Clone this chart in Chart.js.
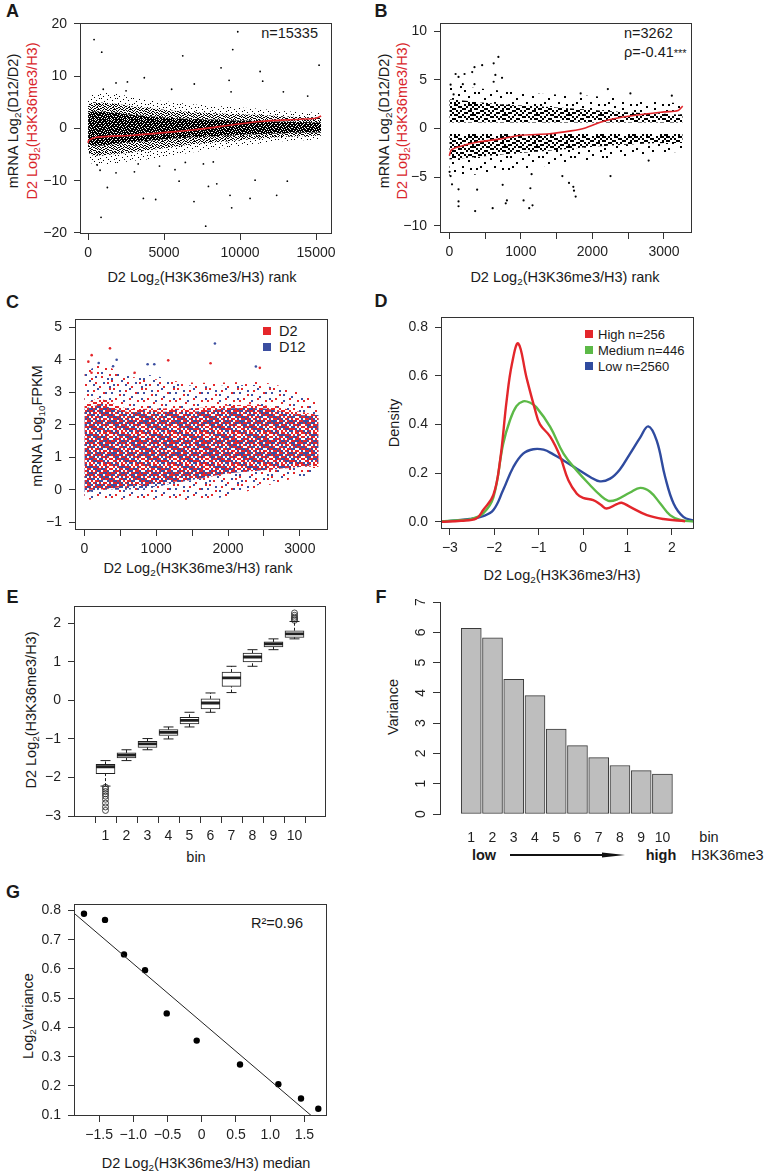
<!DOCTYPE html>
<html>
<head>
<meta charset="utf-8">
<title>H3K36me3 and mRNA variance</title>
<script src="https://cdn.jsdelivr.net/npm/chart.js@4.4.1/dist/chart.umd.min.js"></script>
<style>
  body { margin: 0; background: #fff; }
  #fig { position: relative; width: 766px; height: 1174px; overflow: hidden;
         font-family: "Liberation Sans", Arial, Helvetica, sans-serif; color: #1a1a1a; }
  #fig canvas { position: absolute; }
  .tx { position: absolute; white-space: nowrap; font-size: 14.5px; line-height: 1; }
  .c { transform: translate(-50%, -50%); }
  .l { transform: translate(0, -50%); }
  .rt { transform: translate(-100%, -50%); }
  .v { transform: translate(-50%, -50%) rotate(-90deg); }
  .pl { font-size: 18px; font-weight: bold; }
  .red { color: #d9262c; }
  .sm { font-size: 13px; }
  .b { font-weight: bold; }
  .sw { position: absolute; width: 8px; height: 8px; }
  sub { font-size: 68%; vertical-align: -0.3em; line-height: 0; }
  svg { position: absolute; }
</style>
</head>
<body>
<div id="fig">
  <!-- panel letters -->
  <div class="tx c pl" style="left:12.5px;top:11px">A</div>
  <div class="tx c pl" style="left:381px;top:11px">B</div>
  <div class="tx c pl" style="left:12.5px;top:302px">C</div>
  <div class="tx c pl" style="left:381px;top:301px">D</div>
  <div class="tx c pl" style="left:12.5px;top:597px">E</div>
  <div class="tx c pl" style="left:381px;top:597px">F</div>
  <div class="tx c pl" style="left:13px;top:892px">G</div>

  <!-- A -->
  <div class="tx v" style="left:13px;top:121px">mRNA Log<sub>2</sub>(D12/D2)</div>
  <div class="tx v red" style="left:32px;top:121px">D2 Log<sub>2</sub>(H3K36me3/H3)</div>
  <div class="tx c" style="left:202px;top:277px">D2 Log<sub>2</sub>(H3K36me3/H3) rank</div>
  <div class="tx rt" style="left:318px;top:32.5px">n=15335</div>

  <!-- B -->
  <div class="tx v" style="left:384px;top:121px">mRNA Log<sub>2</sub>(D12/D2)</div>
  <div class="tx v red" style="left:402px;top:121px">D2 Log<sub>2</sub>(H3K36me3/H3)</div>
  <div class="tx c" style="left:565px;top:277px">D2 Log<sub>2</sub>(H3K36me3/H3) rank</div>
  <div class="tx l" style="left:624px;top:33px">n=3262</div>
  <div class="tx l" style="left:624px;top:52px">ρ=-0.41<span style="font-size:11px">***</span></div>

  <!-- C -->
  <div class="tx v" style="left:37px;top:426px">mRNA Log<sub>10</sub>FPKM</div>
  <div class="tx c" style="left:198px;top:568px">D2 Log<sub>2</sub>(H3K36me3/H3) rank</div>
  <div class="sw" style="left:263px;top:327px;background:#e5262a"></div>
  <div class="tx l" style="left:279px;top:331px">D2</div>
  <div class="sw" style="left:263px;top:343px;background:#3b4ea0"></div>
  <div class="tx l" style="left:279px;top:347px">D12</div>

  <!-- D -->
  <div class="tx v" style="left:394px;top:423px">Density</div>
  <div class="tx c" style="left:562px;top:575px">D2 Log<sub>2</sub>(H3K36me3/H3)</div>
  <div class="sw" style="left:585px;top:330px;background:#e3262b"></div>
  <div class="tx l sm" style="left:598px;top:334px">High n=256</div>
  <div class="sw" style="left:585px;top:346px;background:#5cb947"></div>
  <div class="tx l sm" style="left:598px;top:350px">Medium n=446</div>
  <div class="sw" style="left:585px;top:362px;background:#2f4b9f"></div>
  <div class="tx l sm" style="left:598px;top:366px">Low n=2560</div>

  <!-- E -->
  <div class="tx v" style="left:31px;top:710px">D2 Log<sub>2</sub>(H3K36me3/H3)</div>
  <div class="tx c" style="left:196px;top:857px">bin</div>

  <!-- F -->
  <div class="tx v" style="left:393px;top:707px">Variance</div>
  <div class="tx c" style="left:709px;top:837px">bin</div>
  <div class="tx c b" style="left:484px;top:855px">low</div>
  <div class="tx c b" style="left:661px;top:855px">high</div>
  <div class="tx l" style="left:691px;top:855px">H3K36me3</div>
  <svg style="left:505px;top:849px" width="125" height="12">
    <line x1="5" y1="6" x2="100" y2="6" stroke="#111" stroke-width="2"/>
    <polygon points="97,3.5 120,6 97,8.5" fill="#111"/>
  </svg>

  <!-- G -->
  <div class="tx v" style="left:28px;top:1016px">Log<sub>2</sub>Variance</div>
  <div class="tx c" style="left:206px;top:1163px">D2 Log<sub>2</sub>(H3K36me3/H3) median</div>
  <div class="tx l" style="left:251px;top:923px">R²=0.96</div>
</div>

<script>
const INK = '#1f1f1f';
const RED = '#e0262b';

// ---- A: all genes, mRNA change against H3K36me3 rank (cloud edges)
const aRank = [0, 300, 1500, 3000, 5000, 7000, 9000, 11000, 13000, 15335];
const aHaloTop = [5.8, 6.5, 6.8, 6.0, 5.2, 4.6, 4.2, 3.8, 3.3, 3.0];
const aMidTop = [4.5, 5.0, 4.8, 4.2, 3.6, 3.1, 2.8, 2.6, 2.3, 2.1];
const aCoreTop = [3.0, 3.3, 3.1, 2.6, 2.1, 1.8, 1.6, 1.4, 1.3, 1.2];
const aCoreBot = [-3.0, -3.3, -3.1, -2.6, -2.1, -1.7, -1.4, -1.1, -0.9, -0.8];
const aMidBot = [-4.5, -5.2, -5.0, -4.5, -3.8, -3.0, -2.5, -2.0, -1.6, -1.4];
const aHaloBot = [-5.5, -6.8, -6.8, -6.2, -5.5, -4.5, -3.8, -3.0, -2.4, -2.1];
const aOutX = [395, 900, 6230, 9850, 9520, 8750, 11320, 11490, 9280, 9410, 15200, 6990, 5500, 3700, 2590, 1840,
  12850, 14450, 1000, 2500, 855, 1270, 3640, 4450, 5990, 6970, 7740, 7920, 8470, 9340, 9450, 10660, 10990,
  12410, 13110, 1840, 3050, 790, 5720, 7590, 8240, 600, 4700, 3300, 6400];
const aOutY = [17.0, 14.6, 13.9, 18.5, 15.1, 11.6, 10.9, 9.05, 9.2, 7.0, 12.1, 8.5, 7.5, 9.7, 8.9, 8.7,
  7.0, 6.2, 7.5, 7.2, -17.0, -11.3, -13.4, -13.6, -10.1, -14.0, -18.7, -11.1, -10.6, -12.8, -15.2, -13.4, -9.9,
  -12.8, -10.1, -8.5, -8.3, -8.0, -7.9, -6.8, -6.4, -7.0, -7.2, -6.8, -6.5];
const aTrendX = [0, 50, 550, 2965, 5160, 6918, 8500, 9550, 11310, 13950, 15000, 15335];
const aTrendY = [-2.8, -2.3, -1.7, -1.3, -0.76, -0.3, 0.3, 0.7, 1.33, 1.77, 1.96, 2.4];
const aXTicks = [0, 5000, 10000, 15000];
const aXLabels = ['0', '5000', '10000', '15000'];
const aYTicks = [-20, -10, 0, 10, 20];
const aYLabels = ['\u221220', '\u221210', '0', '10', '20'];

// ---- B: changed genes only
const bRank = [0, 300, 700, 1200, 1800, 2400, 3000, 3262];
const bUpHalo = [4.6, 4.2, 3.9, 3.6, 3.4, 3.1, 2.7, 2.6];
const bUpCore = [3.0, 2.8, 2.5, 2.3, 2.0, 1.7, 1.5, 1.4];
const bUpEdge = [0.62, 0.62, 0.62, 0.62, 0.62, 0.62, 0.62, 0.62];
const bLoEdge = [-0.58, -0.58, -0.58, -0.58, -0.58, -0.58, -0.58, -0.58];
const bLoCore = [-3.2, -3.0, -2.7, -2.4, -2.0, -1.7, -1.5, -1.5];
const bLoHalo = [-5.0, -4.8, -4.4, -4.0, -3.4, -2.9, -2.5, -2.4];
const bOutX = [686, 620, 459, 352, 320, 213, 88, 129, 644, 737, 620, 18, 189, 352, 60, 1836, 2216, 2531, 3110,
  4, 18, 38, 129, 129, 129, 361, 606, 789, 805, 1038, 1117, 1163, 1133, 1150, 1673, 1733, 1743, 1766, 1580,
  746, 389, 2253, 2786];
const bOutY = [7.35, 6.7, 6.5, 6.3, 5.8, 5.6, 5.6, 5.3, 5.5, 5.2, 4.8, 4.5, 4.55, 4.55, 3.5, 3.6, 4.05, 3.6, 3.37,
  -4.46, -4.9, -5.75, -6.26, -7.5, -8.0, -8.5, -8.2, -7.7, -7.4, -7.4, -8.2, -7.9, -6.15, -4.7, -5.6, -6.0, -6.4,
  -7.0, -4.9, -5.8, -6.3, -4.9, -3.3];
const bTrendX = [0, 30, 150, 400, 700, 1000, 1400, 1700, 1900, 2100, 2300, 2600, 3000, 3200, 3262];
const bTrendY = [-2.8, -2.2, -1.85, -1.4, -1.1, -0.7, -0.55, -0.25, 0.05, 0.6, 1.0, 1.35, 1.7, 1.85, 2.3];
const rankTicks = [0, 500, 1000, 1500, 2000, 2500, 3000];
const rankLabels = ['0', '', '1000', '', '2000', '', '3000'];
const bYTicks = [-10, -5, 0, 5, 10];
const bYLabels = ['\u221210', '\u22125', '0', '5', '10'];

// ---- C: expression level at D2 and D12
const cRank = [0, 200, 600, 1000, 1500, 2000, 2500, 3000, 3262];
const cD2HaloTop = [3.7, 3.9, 3.5, 3.4, 3.3, 3.3, 3.3, 3.0, 2.7];
const cD2CoreTop = [2.6, 2.8, 2.5, 2.5, 2.5, 2.6, 2.6, 2.4, 2.3];
const cD2CoreBot = [0.0, 0.0, 0.1, 0.2, 0.3, 0.5, 0.6, 0.7, 0.7];
const cD2HaloBot = [-0.3, -0.3, -0.3, -0.3, -0.3, -0.2, 0.1, 0.4, 0.5];
const cD12HaloTop = [3.6, 3.8, 3.6, 3.5, 3.2, 3.2, 3.2, 2.9, 2.6];
const cD12CoreTop = [2.5, 2.6, 2.4, 2.4, 2.4, 2.5, 2.5, 2.3, 2.3];
const cD12CoreBot = [-0.1, 0.0, 0.0, 0.1, 0.3, 0.5, 0.6, 0.7, 0.8];
const cD12HaloBot = [-0.3, -0.3, -0.3, -0.3, -0.3, -0.2, 0.2, 0.4, 0.5];
const cD2OutX = [357, 102, 56, 1168, 1757, 2443, 100, 700];
const cD2OutY = [4.35, 4.14, 3.94, 3.98, 3.89, 3.75, 3.6, 3.6];
const cD12OutX = [1818, 450, 881, 974, 2388, 200, 400];
const cD12OutY = [4.5, 4.0, 3.86, 3.86, 3.79, 3.9, 3.8];
const cYTicks = [-1, 0, 1, 2, 3, 4, 5];
const cYLabels = ['\u22121', '0', '1', '2', '3', '4', '5'];

// ---- D: density of H3K36me3 for high / medium / low groups
const dHighX = [-3.2, -2.75, -2.4, -2.25, -2.02, -1.87, -1.72, -1.6, -1.46, -1.27, -1.08, -0.97, -0.74, -0.52,
  -0.33, -0.14, 0.0, 0.23, 0.4, 0.53, 0.76, 0.87, 1.06, 1.44, 1.81, 2.3];
const dHighY = [0.0, 0.004, 0.014, 0.048, 0.11, 0.25, 0.5, 0.65, 0.733, 0.59, 0.46, 0.40, 0.35, 0.27,
  0.17, 0.115, 0.098, 0.089, 0.07, 0.054, 0.072, 0.078, 0.061, 0.027, 0.011, 0.002];
const dMedX = [-3.2, -2.75, -2.5, -2.25, -2.02, -1.8, -1.65, -1.5, -1.35, -1.2, -1.05, -0.74, -0.44, -0.14,
  0.16, 0.38, 0.57, 0.76, 1.06, 1.29, 1.51, 1.74, 1.96, 2.19, 2.5];
const dMedY = [0.002, 0.006, 0.012, 0.034, 0.10, 0.32, 0.415, 0.475, 0.495, 0.49, 0.47, 0.39, 0.28, 0.21,
  0.15, 0.11, 0.086, 0.091, 0.12, 0.139, 0.123, 0.075, 0.027, 0.007, 0.001];
const dLowX = [-3.2, -3.0, -2.55, -2.25, -2.02, -1.8, -1.57, -1.35, -1.12, -0.89, -0.67, -0.44, -0.14, 0.16,
  0.38, 0.61, 0.83, 1.06, 1.29, 1.47, 1.66, 1.85, 2.04, 2.26, 2.5];
const dLowY = [0.001, 0.003, 0.011, 0.023, 0.048, 0.13, 0.225, 0.28, 0.298, 0.296, 0.277, 0.252, 0.218, 0.184,
  0.166, 0.177, 0.215, 0.28, 0.347, 0.392, 0.333, 0.184, 0.075, 0.02, 0.004];
const dXTicks = [-3, -2, -1, 0, 1, 2];
const dXLabels = ['\u22123', '\u22122', '\u22121', '0', '1', '2'];
const dYTicks = [0, 0.2, 0.4, 0.6, 0.8];
const dYLabels = ['0.0', '0.2', '0.4', '0.6', '0.8'];

// ---- E: H3K36me3 per bin (box plot)
const eBins = [1, 2, 3, 4, 5, 6, 7, 8, 9, 10];
const eMed = [-1.72, -1.42, -1.13, -0.83, -0.52, -0.07, 0.58, 1.12, 1.46, 1.72];
const eQ1 = [-1.90, -1.49, -1.22, -0.91, -0.61, -0.22, 0.36, 0.99, 1.38, 1.63];
const eQ3 = [-1.66, -1.36, -1.06, -0.76, -0.44, 0.04, 0.73, 1.22, 1.51, 1.80];
const eLo = [-2.22, -1.56, -1.28, -1.00, -0.69, -0.31, 0.20, 0.88, 1.31, 1.59];
const eHi = [-1.56, -1.28, -0.99, -0.69, -0.31, 0.19, 0.88, 1.31, 1.59, 2.04];
const eOutX = [1, 1, 1, 1, 1, 1, 1, 1, 1, 10, 10, 10, 10, 10];
const eOutY = [-2.25, -2.3, -2.36, -2.42, -2.48, -2.56, -2.66, -2.76, -2.85, 2.07, 2.11, 2.15, 2.2, 2.26];
const binLabels = ['1', '2', '3', '4', '5', '6', '7', '8', '9', '10'];
const eYTicks = [-3, -2, -1, 0, 1, 2];
const eYLabels = ['\u22123', '\u22122', '\u22121', '0', '1', '2'];

// ---- F: variance of mRNA change per bin
const fVar = [6.13, 5.82, 4.45, 3.91, 2.80, 2.26, 1.86, 1.60, 1.43, 1.32];
const fYTicks = [0, 1, 2, 3, 4, 5, 6, 7];
const fYLabels = ['0', '1', '2', '3', '4', '5', '6', '7'];

// ---- G: log variance against bin median
const gMedian = [-1.721, -1.414, -1.136, -0.829, -0.512, -0.074, 0.559, 1.119, 1.45, 1.703];
const gLogVar = [0.789, 0.768, 0.650, 0.596, 0.448, 0.355, 0.273, 0.206, 0.157, 0.122];
const gFitX = [-1.867, 1.607];
const gFitY = [0.791, 0.097];
const gXTicks = [-1.5, -1, -0.5, 0, 0.5, 1, 1.5];
const gXLabels = ['\u22121.5', '\u22121.0', '\u22120.5', '0', '0.5', '1.0', '1.5'];
const gYTicks = [0.1, 0.2, 0.3, 0.4, 0.5, 0.6, 0.7, 0.8];
const gYLabels = ['0.1', '0.2', '0.3', '0.4', '0.5', '0.6', '0.7', '0.8'];

Chart.defaults.font.family = '"Liberation Sans", Arial, Helvetica, sans-serif';
Chart.defaults.font.size = 14;
Chart.defaults.color = INK;

const pts = (xs, ys) => xs.map((x, i) => ({x, y: ys[i]}));

// dotted fill used for the dense point clouds
function stipple(color, rows, cell) {
  const t = document.createElement('canvas');
  t.width = rows[0].length * cell;
  t.height = rows.length * cell;
  const g = t.getContext('2d');
  g.fillStyle = color;
  rows.forEach((r, y) => [...r].forEach((ch, x) => { if (ch === '1') g.fillRect(x * cell, y * cell, cell, cell); }));
  return g.createPattern(t, 'repeat');
}
const flip = rows => rows.map(r => [...r].reverse().join('')).reverse();

const framePlugin = {
  id: 'frame',
  afterDraw(chart, args, opts) {
    if (!opts.show) return;
    const {ctx, chartArea: a} = chart;
    ctx.save();
    ctx.strokeStyle = '#333';
    ctx.lineWidth = 1;
    ctx.strokeRect(Math.round(a.left) + 0.5, Math.round(a.top) + 0.5,
      Math.round(a.right - a.left) - 1, Math.round(a.bottom - a.top) - 1);
    ctx.restore();
  }
};

// vertical y tick labels (R las=0), placed with the y scale
const uprightLabels = {
  id: 'upright',
  afterDraw(chart, args, opts) {
    if (!opts.labels) return;
    const s = chart.scales.y, ctx = chart.ctx;
    ctx.save();
    ctx.fillStyle = INK;
    ctx.font = '14px "Liberation Sans", Arial, sans-serif';
    ctx.textAlign = 'center';
    ctx.textBaseline = 'middle';
    s.ticks.forEach((t, i) => {
      ctx.save();
      ctx.translate(s.right - opts.offset, s.getPixelForValue(t.value));
      ctx.rotate(-Math.PI / 2);
      ctx.fillText(opts.labels[i], 0, 0);
      ctx.restore();
    });
    ctx.restore();
  }
};

function axis(pos, min, max, ticks, labels, extra) {
  const horiz = pos === 'bottom';
  const ax = {
    type: 'linear', position: pos, min, max,
    afterBuildTicks: s => { s.ticks = ticks.map(v => ({value: v})); },
    grid: {drawOnChartArea: false, drawTicks: true, tickLength: 6, color: '#333', lineWidth: 1},
    border: {display: false},
    ticks: {color: INK, padding: horiz ? 5 : 7, autoSkip: false, maxRotation: 0, minRotation: 0,
            callback: (v, i) => labels[i]}
  };
  if (extra) {
    for (const k in extra) ax[k] = (typeof extra[k] === 'object' && ax[k]) ? Object.assign({}, ax[k], extra[k]) : extra[k];
  }
  return ax;
}

function band(xs, ys, fill) {
  return {type: 'line', data: pts(xs, ys), showLine: true, borderColor: 'transparent', borderWidth: 1,
          pointRadius: 0, tension: 0.3, fill: fill ? '+1' : false,
          backgroundColor: fill || 'transparent', order: 5};
}
function dotSet(xs, ys, color, r) {
  return {type: 'scatter', data: pts(xs, ys), pointRadius: r, pointBackgroundColor: color,
          pointBorderWidth: 0, order: 1};
}
function curve(xs, ys, color, w, tension) {
  return {type: 'line', data: pts(xs, ys), borderColor: color, borderWidth: w, pointRadius: 0,
          tension: tension, fill: false, order: 0};
}

function panel(box, datasets, scales, opts = {}) {
  const pad = Object.assign({l: 60, t: 14, r: 14, b: 44}, opts.pad || {});
  const cv = document.createElement('canvas');
  cv.width = box.r - box.l + pad.l + pad.r;
  cv.height = box.b - box.t + pad.t + pad.b;
  cv.style.left = (box.l - pad.l) + 'px';
  cv.style.top = (box.t - pad.t) + 'px';
  document.getElementById('fig').appendChild(cv);
  scales.x.afterFit = s => { s.height = pad.b; };
  scales.y.afterFit = s => { s.width = pad.l; };
  return new Chart(cv, {
    type: 'scatter',
    data: {datasets},
    options: {
      responsive: false, animation: false, events: [],
      layout: {autoPadding: false, padding: {left: 0, top: pad.t, right: pad.r, bottom: 0}},
      plugins: {legend: {display: false}, tooltip: {enabled: false},
                frame: {show: opts.frame !== false}, upright: opts.upright || {}},
      scales
    },
    plugins: [framePlugin, uprightLabels]
  });
}

// stipple tiles (fixed, irregular dot layouts)
const sparseDots = [
  '1000000000000100', '0000010000000000', '0000000001000000', '0010000000000001',
  '0000000000010000', '0000001000000000', '1000000000000000', '0000000010000010',
  '0001000000000000', '0000000000100000', '0100000000000001', '0000000100000000',
  '0000000000001000', '0000100000000000', '0000000000000000', '0010000001000000'];
const midDots = [
  '1010011000101101', '0101000110010010', '1000110001100101', '0011001010001100',
  '1100100100110010', '0001011001000111', '1010000110101000', '0100110000010110',
  '1001001011000001', '0110100100101100', '0000110010010011', '1011000101100100',
  '0100011000011010', '1001100110000101', '0110001001110000', '0001010100001011'];
const coreDots = [
  '1101110111101101', '1011111101111011', '1111011011011111', '0110111111110110',
  '1111101101101111', '1011011111011101', '1110110110111111', '0111111011110110',
  '1101101111011011', '1111110101111101', '1011011111101111', '1110111010110111',
  '0111101111111010', '1101111011011111', '1011010111101101', '1111111101010111'];

// A
panel({l: 80, t: 22, r: 332, b: 234}, [
  curve(aTrendX, aTrendY, RED, 1.6, 0.3),
  dotSet(aOutX, aOutY, '#000', 0.9),
  band(aRank, aHaloTop, stipple('#000', sparseDots, 1)),
  band(aRank, aMidTop, stipple('#000', midDots, 1)),
  band(aRank, aCoreTop, stipple('#000', coreDots, 1)),
  band(aRank, aCoreBot, stipple('#000', midDots, 1)),
  band(aRank, aMidBot, stipple('#000', sparseDots, 1)),
  band(aRank, aHaloBot, null)
], {x: axis('bottom', -530, 16050, aXTicks, aXLabels), y: axis('left', -20.2, 20.1, aYTicks, aYLabels)});

// B
panel({l: 440, t: 22, r: 692, b: 233}, [
  curve(bTrendX, bTrendY, RED, 1.6, 0.3),
  dotSet(bOutX, bOutY, '#000', 1.1),
  band(bRank, bUpHalo, stipple('#000', sparseDots, 2)),
  band(bRank, bUpCore, stipple('#000', midDots, 2)),
  band(bRank, bUpEdge, null),
  band(bRank, bLoEdge, stipple('#000', midDots, 2)),
  band(bRank, bLoCore, stipple('#000', sparseDots, 2)),
  band(bRank, bLoHalo, null)
], {x: axis('bottom', -130, 3392, rankTicks, rankLabels), y: axis('left', -10.75, 10.8, bYTicks, bYLabels)});

// C
panel({l: 75, t: 318, r: 328, b: 530}, [
  dotSet(cD2OutX, cD2OutY, '#e5262a', 1.3),
  dotSet(cD12OutX, cD12OutY, '#3b4ea0', 1.3),
  band(cRank, cD2HaloTop, stipple('#e5262a', sparseDots, 2)),
  band(cRank, cD2CoreTop, stipple('#e5262a', midDots, 2)),
  band(cRank, cD2CoreBot, stipple('#e5262a', sparseDots, 2)),
  band(cRank, cD2HaloBot, null),
  band(cRank, cD12HaloTop, stipple('#3b4ea0', flip(sparseDots), 2)),
  band(cRank, cD12CoreTop, stipple('#3b4ea0', flip(midDots), 2)),
  band(cRank, cD12CoreBot, stipple('#3b4ea0', flip(sparseDots), 2)),
  band(cRank, cD12HaloBot, null)
], {x: axis('bottom', -130, 3392, rankTicks, rankLabels), y: axis('left', -1.24, 5.24, cYTicks, cYLabels)});

// D
panel({l: 441, t: 316, r: 694, b: 529}, [
  curve(dHighX, dHighY, '#e3262b', 2.4, 0.4),
  curve(dMedX, dMedY, '#5cb947', 2.4, 0.4),
  curve(dLowX, dLowY, '#2f4b9f', 2.4, 0.4)
], {x: axis('bottom', -3.2, 2.5, dXTicks, dXLabels), y: axis('left', -0.03, 0.84, dYTicks, dYLabels)});

// E
const eWhisk = [];
eBins.forEach((b, i) => {
  eWhisk.push({x: b, y: eLo[i]}, {x: b, y: eQ1[i]}, {x: b, y: null},
              {x: b, y: eQ3[i]}, {x: b, y: eHi[i]}, {x: b, y: null});
});
panel({l: 74, t: 605, r: 326, b: 817}, [
  {type: 'scatter', data: pts(eBins, eMed), pointStyle: 'line', pointRadius: 9.5, borderColor: INK,
   pointBorderWidth: 2.8, order: 0},
  {type: 'scatter', data: pts(eBins.concat(eBins), eLo.concat(eHi)), pointStyle: 'line', pointRadius: 5,
   borderColor: INK, pointBorderWidth: 1, order: 1},
  {type: 'scatter', data: pts(eOutX, eOutY), pointStyle: 'circle', pointRadius: 3, pointBackgroundColor: 'rgba(0,0,0,0)',
   borderColor: INK, pointBorderWidth: 0.8, order: 1},
  {type: 'bar', data: eBins.map((b, i) => ({x: b, y: [eQ1[i], eQ3[i]]})), barThickness: 19,
   backgroundColor: '#fff', borderColor: INK, borderWidth: 1, borderSkipped: false, order: 2},
  {type: 'line', data: eWhisk, borderColor: INK, borderWidth: 1, borderDash: [3, 2], pointRadius: 0,
   tension: 0, spanGaps: false, fill: false, order: 3}
], {x: axis('bottom', 0.1, 10.9, eBins, binLabels), y: axis('left', -3.02, 2.43, eYTicks, eYLabels)});

// F
panel({l: 440, t: 602, r: 700, b: 814}, [
  {type: 'bar', data: pts(eBins, fVar), barThickness: 20, backgroundColor: '#bebebe', borderColor: '#3a3a3a',
   borderWidth: 1, borderSkipped: false}
], {
  x: axis('bottom', 0.14, 11.157, eBins, binLabels, {grid: {display: false, drawTicks: false}, ticks: {padding: 16}}),
  y: axis('left', 0, 7, fYTicks, fYLabels, {
    border: {display: true, color: '#333', width: 1},
    grid: {tickLength: 7},
    ticks: {display: false}
  })
}, {frame: false, pad: {r: 66, b: 40}, upright: {labels: fYLabels, offset: 19}});

// G
panel({l: 74, t: 903, r: 327, b: 1116}, [
  curve(gFitX, gFitY, '#222', 1, 0),
  dotSet(gMedian, gLogVar, '#000', 3.2)
], {x: axis('bottom', -1.867, 1.83, gXTicks, gXLabels), y: axis('left', 0.097, 0.821, gYTicks, gYLabels)});
</script>
</body>
</html>
